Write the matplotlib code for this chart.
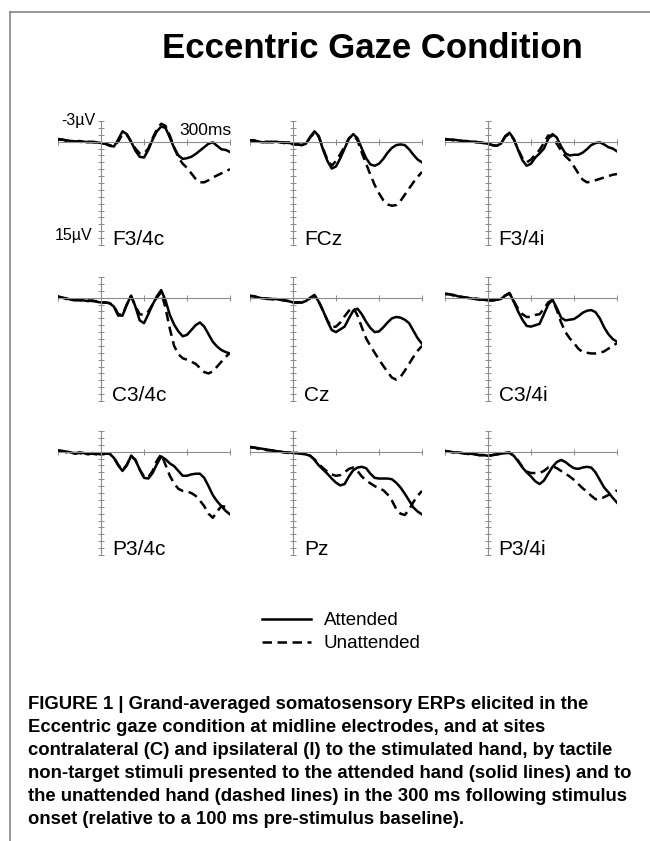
import matplotlib
matplotlib.use("Agg")
import matplotlib.pyplot as plt
from matplotlib.lines import Line2D

plt.rcParams['font.family'] = ['Liberation Sans', 'DejaVu Sans']

# sample times (ms), one value every 10 ms
times = list(range(-100, 301, 10))

# amplitudes in microvolts (negative up)
f34c_att = [-0.4, -0.3, -0.2, -0.1, 0.0, -0.1, 0.0, 0.1, 0.0, 0.1, 0.2, 0.3, 0.6, 0.7, -0.3, -1.5, -1.1, 0.0, 1.3, 2.2, 2.3,
            1.2, -0.3, -1.5, -2.2, -2.0, -0.6, 0.9, 2.0, 2.5, 2.4, 2.2, 1.8, 1.3, 0.8, 0.3, 0.1, 0.6, 1.1, 1.2, 1.5]
f34c_unatt = [-0.3, -0.3, -0.1, -0.2, 0.0, 0.0, 0.1, 0.0, 0.1, 0.1, 0.2, 0.3, 0.5, 0.6, 0.0, -1.1, -1.0, 0.0, 1.0, 1.7, 1.7,
              1.0, -0.5, -1.8, -2.6, -2.3, -0.9, 0.8, 2.3, 3.2, 3.8, 4.6, 5.4, 5.9, 5.9, 5.6, 5.2, 4.9, 4.6, 4.3, 4.0]
fcz_att = [-0.2, -0.2, 0.0, 0.1, 0.0, 0.1, 0.0, 0.1, 0.2, 0.1, 0.4, 0.4, 0.5, 0.3, -0.7, -1.5, -0.8, 1.2, 2.8, 3.9, 3.6,
           2.4, 1.0, -0.4, -1.1, -0.5, 1.0, 2.4, 3.3, 3.5, 3.2, 2.5, 1.6, 0.9, 0.5, 0.4, 0.5, 1.1, 1.9, 2.6, 3.0]
fcz_unatt = [-0.2, -0.1, 0.0, 0.0, 0.1, 0.0, 0.1, 0.1, 0.1, 0.2, 0.4, 0.4, 0.5, 0.3, -0.6, -1.3, -0.7, 1.0, 2.6, 3.5, 2.8,
             1.8, 0.7, -0.5, -1.0, -0.2, 1.6, 3.2, 4.8, 6.3, 7.5, 8.5, 9.1, 9.3, 9.2, 8.6, 7.7, 6.8, 5.9, 5.1, 4.4]
f34i_att = [-0.4, -0.3, -0.3, -0.2, -0.1, -0.1, 0.0, 0.0, 0.1, 0.2, 0.3, 0.5, 0.6, 0.3, -0.8, -1.3, -0.4, 1.2, 2.7, 3.5, 3.2,
            2.3, 1.7, 1.0, -0.4, -1.1, -0.6, 0.7, 1.7, 2.0, 1.9, 1.9, 1.6, 1.1, 0.5, 0.2, 0.1, 0.4, 0.8, 1.0, 1.4]
f34i_unatt = [-0.3, -0.3, -0.2, -0.2, -0.1, 0.0, 0.0, 0.1, 0.1, 0.2, 0.3, 0.5, 0.6, 0.3, -0.7, -1.2, -0.3, 1.1, 2.4, 3.0, 2.6,
              1.9, 1.2, 0.2, -0.9, -0.8, 0.3, 1.3, 2.1, 2.7, 3.6, 4.6, 5.5, 5.9, 5.8, 5.6, 5.4, 5.2, 5.0, 4.8, 4.7]
c34c_att = [-0.2, 0.0, 0.1, 0.3, 0.4, 0.3, 0.4, 0.5, 0.4, 0.6, 0.7, 0.7, 0.8, 1.3, 2.6, 2.6, 1.0, -0.3, 1.3, 3.3, 3.7,
            2.4, 1.0, -0.2, -1.1, 0.4, 2.5, 3.9, 4.9, 5.6, 5.4, 4.7, 4.0, 3.6, 4.2, 5.3, 6.4, 7.1, 7.6, 7.9, 8.1]
c34c_unatt = [-0.1, 0.0, 0.2, 0.2, 0.3, 0.4, 0.4, 0.4, 0.5, 0.5, 0.7, 0.7, 0.8, 1.2, 2.4, 2.5, 1.0, -0.2, 1.2, 2.4, 2.5,
              2.0, 1.0, 0.0, -0.8, 1.5, 4.5, 7.0, 8.2, 8.8, 9.0, 9.3, 9.6, 10.2, 10.8, 11.0, 10.7, 10.0, 9.3, 8.6, 8.0]
cz_att = [-0.3, -0.2, 0.0, 0.1, 0.1, 0.2, 0.2, 0.3, 0.4, 0.5, 0.7, 0.7, 0.7, 0.5, 0.0, -0.4, 0.6, 1.9, 3.4, 4.7, 5.0,
          4.6, 4.2, 3.0, 1.9, 1.6, 2.4, 3.5, 4.4, 5.0, 4.9, 4.3, 3.6, 3.0, 2.8, 2.9, 3.2, 3.7, 4.8, 5.9, 6.7]
cz_unatt = [-0.2, -0.2, 0.0, 0.0, 0.2, 0.2, 0.3, 0.3, 0.4, 0.5, 0.7, 0.7, 0.7, 0.5, 0.1, -0.3, 0.6, 1.9, 3.3, 4.3, 4.2,
            3.6, 2.7, 1.9, 1.4, 2.6, 4.3, 5.9, 7.0, 8.0, 9.0, 9.9, 10.8, 11.6, 11.9, 11.5, 10.6, 9.6, 8.6, 7.7, 7.0]
c34i_att = [-0.6, -0.5, -0.4, -0.2, -0.1, 0.0, 0.1, 0.2, 0.3, 0.3, 0.4, 0.4, 0.3, 0.2, -0.3, -0.7, 0.6, 2.0, 3.2, 4.1, 4.2,
            4.0, 3.8, 2.4, 1.0, 0.3, 1.5, 2.9, 3.3, 3.2, 3.1, 2.7, 2.2, 1.9, 1.8, 2.1, 3.0, 4.3, 5.3, 6.0, 6.4]
c34i_unatt = [-0.5, -0.5, -0.3, -0.2, -0.1, 0.0, 0.1, 0.1, 0.2, 0.3, 0.4, 0.4, 0.3, 0.2, -0.3, -0.6, 0.5, 1.6, 2.4, 2.8, 2.8,
              2.5, 2.4, 1.6, 0.7, 0.3, 1.8, 3.6, 5.0, 5.9, 6.6, 7.4, 7.9, 8.0, 8.1, 8.1, 8.0, 7.8, 7.4, 7.0, 6.6]
p34c_att = [-0.2, -0.1, 0.0, 0.1, 0.3, 0.1, 0.2, 0.4, 0.2, 0.3, 0.4, 0.3, 0.3, 0.9, 2.0, 2.8, 2.0, 0.6, 1.2, 2.6, 3.8,
            3.9, 3.1, 1.8, 0.7, 1.1, 1.7, 2.1, 2.8, 3.5, 3.5, 3.3, 3.2, 3.2, 3.8, 5.0, 6.3, 7.2, 7.9, 8.6, 9.1]
p34c_unatt = [-0.1, -0.1, 0.1, 0.2, 0.2, 0.2, 0.3, 0.3, 0.3, 0.4, 0.4, 0.3, 0.3, 0.8, 1.9, 2.7, 1.9, 0.6, 1.2, 2.6, 3.6,
              3.7, 2.8, 1.3, 0.4, 1.9, 3.5, 4.6, 5.4, 5.7, 5.8, 6.0, 6.4, 7.1, 7.9, 9.0, 9.6, 8.7, 7.9, 8.0, 8.4]
pz_att = [-0.7, -0.6, -0.5, -0.4, -0.3, -0.2, -0.1, 0.0, 0.1, 0.1, 0.2, 0.2, 0.3, 0.4, 0.6, 1.2, 2.0, 2.6, 3.2, 3.9, 4.5,
          4.9, 4.7, 3.6, 2.7, 2.3, 2.2, 2.4, 3.2, 3.8, 3.9, 3.9, 3.9, 4.0, 4.5, 5.2, 6.1, 7.1, 8.1, 8.7, 9.1]
pz_unatt = [-0.6, -0.6, -0.4, -0.4, -0.2, -0.2, 0.0, 0.0, 0.1, 0.2, 0.2, 0.2, 0.3, 0.4, 0.6, 1.1, 1.8, 2.4, 2.9, 3.3, 3.5,
            3.4, 3.0, 2.5, 2.3, 2.8, 3.6, 4.2, 4.6, 5.0, 5.3, 5.6, 6.2, 7.1, 8.3, 9.0, 9.2, 8.4, 7.3, 6.4, 5.7]
p34i_att = [-0.1, 0.0, 0.1, 0.1, 0.2, 0.3, 0.3, 0.4, 0.5, 0.5, 0.6, 0.5, 0.4, 0.3, 0.2, 0.1, 0.6, 1.4, 2.3, 3.0, 3.6,
            4.3, 4.7, 4.2, 3.2, 2.2, 1.5, 1.2, 1.5, 2.0, 2.4, 2.5, 2.3, 2.2, 2.3, 3.0, 4.1, 5.2, 5.9, 6.7, 7.4]
p34i_unatt = [0.0, 0.0, 0.1, 0.2, 0.2, 0.3, 0.4, 0.4, 0.5, 0.5, 0.6, 0.5, 0.4, 0.3, 0.2, 0.2, 0.6, 1.3, 2.2, 2.9, 3.1,
              3.1, 3.1, 2.8, 2.3, 2.1, 2.4, 2.8, 3.2, 3.6, 4.1, 4.7, 5.3, 5.8, 6.4, 6.9, 6.9, 6.6, 6.3, 6.0, 5.6]

panels = [
    ("F3/4c", f34c_att, f34c_unatt), ("FCz", fcz_att, fcz_unatt), ("F3/4i", f34i_att, f34i_unatt),
    ("C3/4c", c34c_att, c34c_unatt), ("Cz", cz_att, cz_unatt), ("C3/4i", c34i_att, c34i_unatt),
    ("P3/4c", p34c_att, p34c_unatt), ("Pz", pz_att, pz_unatt), ("P3/4i", p34i_att, p34i_unatt),
]

caption_lines = [
    "FIGURE 1 | Grand-averaged somatosensory ERPs elicited in the",
    "Eccentric gaze condition at midline electrodes, and at sites",
    "contralateral (C) and ipsilateral (I) to the stimulated hand, by tactile",
    "non-target stimuli presented to the attended hand (solid lines) and to",
    "the unattended hand (dashed lines) in the 300 ms following stimulus",
    "onset (relative to a 100 ms pre-stimulus baseline).",
]

W, H = 650, 841
fig = plt.figure(figsize=(W / 100, H / 100), dpi=100)

col_left = [58, 250, 445]
row_top = [121, 277, 431]
pw, ph = 172, 124
grey = '#8c8c8c'
dash = (0, (3.8, 2.2))

for i, (name, att, unatt) in enumerate(panels):
    r, c = divmod(i, 3)
    ax = fig.add_axes([col_left[c] / W, 1 - (row_top[r] + ph) / H, pw / W, ph / H])
    ax.set_xlim(-100, 300)
    ax.set_ylim(15, -3)
    ax.set_facecolor('none')
    for s in ['top', 'right']:
        ax.spines[s].set_visible(False)
    ax.spines['left'].set_position(('data', 0))
    ax.spines['bottom'].set_position(('data', 0))
    for s in ['left', 'bottom']:
        ax.spines[s].set_color(grey)
        ax.spines[s].set_linewidth(0.8)
    ax.set_yticks(range(-3, 16))
    ax.set_xticks([-100, 100, 200, 300])
    ax.tick_params(direction='inout', length=4, width=0.7, color=grey,
                   labelleft=False, labelbottom=False)
    ax.plot(times, att, color='black', lw=1.8, solid_joinstyle='round')
    ax.plot(times, unatt, color='black', lw=1.8, ls=dash)
    ax.text(25, 15, name, fontsize=15, ha='left', va='baseline')
    if i == 0:
        ax.text(-14, -2.4, "-3\u00b5V", fontsize=11.5, ha='right', va='baseline')
        ax.text(-19, 14.3, "15\u00b5V", fontsize=11.5, ha='right', va='baseline')
        ax.text(304, -0.9, "300ms", fontsize=12.5, ha='right', va='baseline')

# legend
handles = [Line2D([], [], color='black', lw=1.8),
           Line2D([], [], color='black', lw=1.8, ls=dash)]
fig.legend(handles, ["Attended", "Unattended"], loc='upper left',
           bbox_to_anchor=(262 / W, 1 - 612 / H), frameon=False, fontsize=13.5,
           handlelength=2.6, handletextpad=0.7, labelspacing=0.32, borderpad=0,
           borderaxespad=0)

# title and caption
fig.text(372 / W, 1 - 58 / H, "Eccentric Gaze Condition", fontsize=25,
         fontweight='bold', ha='center', va='baseline')
for k, line in enumerate(caption_lines):
    fig.text(28 / W, 1 - (709 + 23 * k) / H, line, fontsize=13.3,
             fontweight='bold', ha='left', va='baseline')

# frame lines at top and left
fig.add_artist(Line2D([10 / W, 1], [1 - 12 / H, 1 - 12 / H], color='#7a7a7a', lw=1.1,
                      transform=fig.transFigure))
fig.add_artist(Line2D([10 / W, 10 / W], [1 - 12 / H, 0], color='#7a7a7a', lw=1.1,
                      transform=fig.transFigure))

fig.savefig("out.png", dpi=100)
